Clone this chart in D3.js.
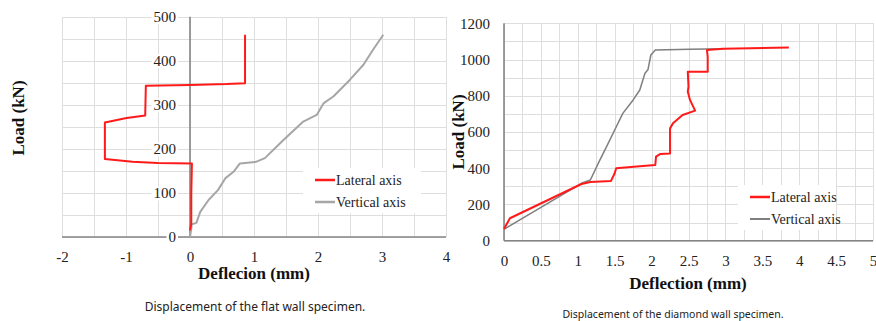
<!DOCTYPE html>
<meta charset="utf-8">
<style>
body { margin: 0; background: #fff; }
.grid line { stroke: #dedede; stroke-width: 1px; shape-rendering: crispEdges; }
.grid path { stroke-width: 0; }
.line { fill: none; stroke-linejoin: round; }
</style>
<body>
<script src="https://d3js.org/d3.v7.min.js"></script>
<script>

var serif = '"Liberation Serif", "Times New Roman", serif';

// ---- data: flat wall (left) ----
var flatXTicks = [-2, -1, 0, 1, 2, 3, 4];
var flatYTicks = [0, 100, 200, 300, 400, 500];
// [deflection mm, load kN]
var flatLateral = [[0.0, 15], [0.02, 30], [0.02, 100], [0.03, 167], [-0.5, 168], [-0.9, 171],
  [-1.33, 177], [-1.33, 260], [-0.99, 270], [-0.70, 276], [-0.69, 343], [0, 345],
  [0.57, 347], [0.86, 349], [0.86, 459]];
var flatVertical = [[0, 0], [0.03, 29], [0.10, 32], [0.16, 57], [0.29, 84], [0.44, 107],
  [0.55, 133], [0.68, 148], [0.78, 167], [1.02, 170], [1.17, 179], [1.46, 220],
  [1.77, 262], [1.98, 277], [2.09, 304], [2.24, 319], [2.5, 357], [2.71, 391],
  [2.86, 425], [3.02, 459]];

// ---- data: diamond wall (right) ----
var diaXTicks = [0, 0.5, 1, 1.5, 2, 2.5, 3, 3.5, 4, 4.5, 5];
var diaYTicks = [0, 200, 400, 600, 800, 1000, 1200];
var diaLateral = [[0, 65], [0.08, 124], [1.05, 313], [1.17, 324], [1.45, 330], [1.50, 372],
  [1.52, 400], [1.80, 409], [2.05, 418], [2.06, 464], [2.12, 479], [2.25, 482],
  [2.25, 620], [2.29, 648], [2.42, 694], [2.59, 718], [2.52, 777], [2.49, 823],
  [2.50, 850], [2.49, 933], [2.76, 933], [2.76, 1015], [2.75, 1053], [2.97, 1060],
  [3.86, 1066]];
var diaVertical = [[0, 63], [1.05, 317], [1.17, 335], [1.30, 446], [1.39, 519], [1.50, 611],
  [1.61, 703], [1.75, 777], [1.84, 832], [1.91, 924], [1.95, 943], [1.99, 1025],
  [2.05, 1053], [2.52, 1057], [2.97, 1060]];

var svg = d3.select("body").append("svg")
    .attr("width", 876)
    .attr("height", 321);

function fmt(d) { return String(d); }

function labelBg(g) {
  g.selectAll(".tick").each(function() {
    var t = d3.select(this).select("text");
    var b = t.node().getBBox();
    d3.select(this).insert("rect", "text")
        .attr("x", b.x - 2).attr("y", b.y + 1)
        .attr("width", b.width + 4).attr("height", b.height - 2)
        .attr("fill", "#fff");
  });
}

function drawChart(o) {
  var x = d3.scaleLinear().domain(o.xDomain).range(o.xRange);
  var y = d3.scaleLinear().domain(o.yDomain).range(o.yRange);
  var g = svg.append("g");

  // gridlines
  g.append("g").attr("class", "grid")
      .attr("transform", "translate(0," + o.yRange[0] + ")")
      .call(d3.axisBottom(x).tickValues(o.xGrid).tickSize(-(o.yRange[0] - o.yRange[1])).tickFormat(""));
  g.append("g").attr("class", "grid")
      .attr("transform", "translate(" + o.xRange[0] + ",0)")
      .call(d3.axisLeft(y).tickValues(o.yGrid).tickSize(-(o.xRange[1] - o.xRange[0])).tickFormat(""));

  // axis lines
  g.append("line")
      .attr("x1", x(0)).attr("x2", x(0))
      .attr("y1", o.yRange[1]).attr("y2", o.yRange[0])
      .attr("stroke", "#858585").attr("stroke-width", 1.6);
  g.append("line")
      .attr("x1", o.xRange[0]).attr("x2", o.xRange[1])
      .attr("y1", y(0)).attr("y2", y(0))
      .attr("stroke", "#858585").attr("stroke-width", 1.6);

  // series
  var line = d3.line().x(function(d) { return x(d[0]); }).y(function(d) { return y(d[1]); });
  g.append("path").datum(o.vertical).attr("class", "line")
      .attr("stroke", o.grayColor).attr("stroke-width", o.grayWidth).attr("d", line);
  g.append("path").datum(o.lateral).attr("class", "line")
      .attr("stroke", "#ff1a1a").attr("stroke-width", 2).attr("d", line);

  // tick labels
  var ya = g.append("g")
      .attr("transform", "translate(" + x(0) + ",0)")
      .call(d3.axisLeft(y).tickValues(o.yTicks).tickSize(0).tickPadding(o.yPad).tickFormat(fmt));
  ya.select(".domain").remove();
  ya.selectAll("text")
      .attr("dy", "0.33em")
      .style("font-family", serif).style("font-size", "15px").style("fill", "#222");
  labelBg(ya);

  var xa = g.append("g")
      .attr("transform", "translate(0," + y(0) + ")")
      .call(d3.axisBottom(x).tickValues(o.xTicks).tickSize(0).tickFormat(fmt));
  xa.select(".domain").remove();
  xa.selectAll("text")
      .attr("y", o.xPad).attr("dy", 0)
      .style("font-family", serif).style("font-size", "15px").style("fill", "#222");

  // titles
  g.append("text")
      .attr("x", o.xTitle[0]).attr("y", o.xTitle[1])
      .attr("text-anchor", "middle")
      .style("font-family", serif).style("font-size", "17px").style("font-weight", "bold")
      .style("fill", "#111")
      .text(o.xLabel);
  g.append("text")
      .attr("transform", "translate(" + o.yTitle[0] + "," + o.yTitle[1] + ") rotate(-90)")
      .attr("text-anchor", "middle")
      .style("font-family", serif).style("font-size", "17px").style("font-weight", "bold")
      .style("fill", "#111")
      .text("Load (kN)");

  // legend
  var lg = g.append("g")
      .attr("transform", "translate(" + o.legend[0] + "," + o.legend[1] + ")");
  lg.append("rect").attr("x", -12).attr("y", -12)
      .attr("width", o.legendW).attr("height", 45).attr("fill", "#fff");
  [["Lateral axis", "#ff1a1a", 2], ["Vertical axis", o.grayColor, o.grayWidth]].forEach(function(d, i) {
    lg.append("line").attr("x1", 0).attr("x2", 20)
        .attr("y1", i * 22).attr("y2", i * 22)
        .attr("stroke", d[1]).attr("stroke-width", d[2] + 0.5);
    lg.append("text").attr("x", 21).attr("y", i * 22 + 5)
        .style("font-family", serif).style("font-size", "14px").style("fill", "#222")
        .text(d[0]);
  });

  // caption
  svg.append("text")
      .attr("x", o.caption[0]).attr("y", o.caption[1])
      .attr("text-anchor", "middle")
      .style("font-family", '"Noto Sans", "Open Sans", sans-serif')
      .style("font-size", o.captionSize + "px").style("fill", "#222")
      .text(o.captionText);
}

drawChart({
  xDomain: [-2, 4], xRange: [62, 446],
  yDomain: [0, 500], yRange: [237, 16.7],
  xGrid: d3.range(-2, 4.01, 0.5), yGrid: d3.range(0, 501, 50),
  xTicks: flatXTicks, yTicks: flatYTicks,
  yPad: 14, xPad: 25,
  lateral: flatLateral, vertical: flatVertical,
  grayColor: "#a6a6a6", grayWidth: 2,
  xLabel: "Deflecion (mm)", xTitle: [254, 279], yTitle: [24, 118],
  legend: [315, 180], legendW: 118,
  caption: [255, 311], captionSize: 12, captionText: "Displacement of the flat wall specimen."
});

drawChart({
  xDomain: [0, 5], xRange: [504, 873],
  yDomain: [0, 1200], yRange: [240.7, 23.3],
  xGrid: d3.range(0, 5.01, 0.25), yGrid: d3.range(0, 1201, 100),
  xTicks: diaXTicks, yTicks: diaYTicks,
  yPad: 14, xPad: 25,
  lateral: diaLateral, vertical: diaVertical,
  grayColor: "#7f7f7f", grayWidth: 1.5,
  xLabel: "Deflection (mm)", xTitle: [688, 289], yTitle: [464, 132],
  legend: [750, 197], legendW: 98,
  caption: [673, 318], captionSize: 10.5, captionText: "Displacement of the diamond wall specimen."
});

</script>
</body>
